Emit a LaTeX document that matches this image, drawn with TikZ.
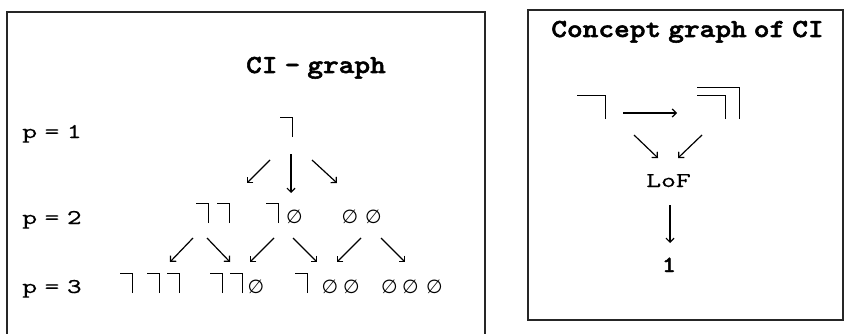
\documentclass[tikz,border=0pt]{standalone}
\usepackage{fontspec}
\usepackage{tikz}
\usetikzlibrary{calc,arrows.meta}

\newfontfamily\lblfont{lmmono10-regular.otf}[FakeStretch=1.35,WordSpace=0.5,FakeBold=0.2]
\newfontfamily\ttlfont{lmmonolt10-bold.otf}[FakeStretch=1.15,WordSpace=0.45,FakeBold=2]
\newfontfamily\esfont{DejaVu Sans}

% marca (cross) e conjunto vazio
\newcommand{\mk}{\hbox{\vrule width 11.6pt height 20pt depth -18.6pt\vrule width 1.4pt height 20pt depth 0pt}}
\newcommand{\bigmk}{\hbox{\vrule width 27.6pt height 24pt depth -22.6pt\vrule width 1.4pt height 24pt depth 0pt}}
\newcommand{\nestmk}{\hbox{\rlap{\vrule width 43pt height 32pt depth -30.6pt}\vrule width 27.6pt height 24pt depth -22.6pt\vrule width 1.4pt height 24pt depth 0pt\kern 12.6pt\vrule width 1.4pt height 32pt depth 0pt}}
\newcommand{\es}{\makebox[14pt]{\esfont\fontsize{19}{19}\selectfont ∅}}

\begin{document}
\begin{tikzpicture}[x=1pt, y=-1pt, >={Straight Barb[length=4pt,width=8pt]},
  item/.style={inner sep=0pt, outer sep=0pt, anchor=base west},
  lbl/.style={inner sep=0pt, anchor=base west, font=\lblfont\fontsize{21}{24}\selectfont},
  ttl/.style={inner sep=0pt, anchor=base, font=\ttlfont\fontsize{26}{30}\selectfont},
  seta/.style={->, line width=1.2pt}]
\useasboundingbox (0,0) rectangle (845,334);

% Molduras
\draw[line width=1.5pt, black!85] (7,334) -- (7,12) -- (485,12) -- (485,334);
\draw[line width=1.5pt, black!85] (528,10) rectangle (843,320);

% CI - graph
\node[ttl] (tl) at (316,73) {CI - graph};
\node[lbl] (p1) at (22,138) {p = 1};
\node[lbl] (p2) at (22,224) {p = 2};
\node[lbl] (p3) at (22,293) {p = 3};

\node[item] (m1) at (280,137) {\mk};

\node[item] (A) at (196,223) {\mk\kern8pt\mk};
\node[item] (B) at (266,223) {\mk\kern8.5pt\es};
\node[item] (C) at (343,223) {\es\kern9.5pt\es};

\node[item] (R1) at (120,293) {\mk\kern14pt\mk\kern7pt\mk};
\node[item] (R2) at (210,293) {\mk\kern7pt\mk\kern6pt\es};
\node[item] (R3) at (295,293) {\mk\kern15pt\es\kern7.5pt\es};
\node[item] (R4) at (382.5,293) {\es\kern7pt\es\kern10pt\es};

\draw[seta] ($(m1.base west)+(-10,23)$) -- ($(A.base west)+(51,-40)$);
\draw[seta] ($(m1.base west)+(11,17)$) -- ($(B.base west)+(25,-30)$);
\draw[seta] ($(m1.base west)+(32,23)$) -- ($(C.base west)+(-6,-40)$);

\draw[seta] ($(A.base west)+(-3,15)$) -- ($(R1.base west)+(50,-31)$);
\draw[seta] ($(A.base west)+(11,15)$) -- ($(R2.base west)+(20,-31)$);
\draw[seta] ($(B.base west)+(8,15)$) -- ($(R2.base west)+(40,-31)$);
\draw[seta] ($(B.base west)+(27,15)$) -- ($(R3.base west)+(22,-31)$);
\draw[seta] ($(C.base west)+(18,15)$) -- ($(R3.base west)+(42,-31)$);
\draw[seta] ($(C.base west)+(38,15)$) -- ($(R4.base west)+(22.5,-31)$);

% Concept graph of CI
\node[ttl] (tr) at (687.5,37) {Concept graph of CI};
\node[item] (n1) at (577,119) {\bigmk};
\node[item] (n2) at (697,119) {\nestmk};
\node[lbl, anchor=base] (lof) at (668.5,187) {LoF};
\node[ttl, font=\ttlfont\fontsize{23}{26}\selectfont] (one) at (669,272) {1};

\draw[seta] ($(n1.base west)+(46,-6)$) -- ($(n2.base west)+(-20,-6)$);
\draw[seta] ($(n1.base west)+(57,16)$) -- ($(lof.base)+(-10.5,-29)$);
\draw[seta] ($(n2.base west)+(5,16)$) -- ($(lof.base)+(9.5,-29)$);
\draw[seta] ($(lof.base)+(1.5,18)$) -- ($(one.base)+(1,-29)$);
\end{tikzpicture}
\end{document}
